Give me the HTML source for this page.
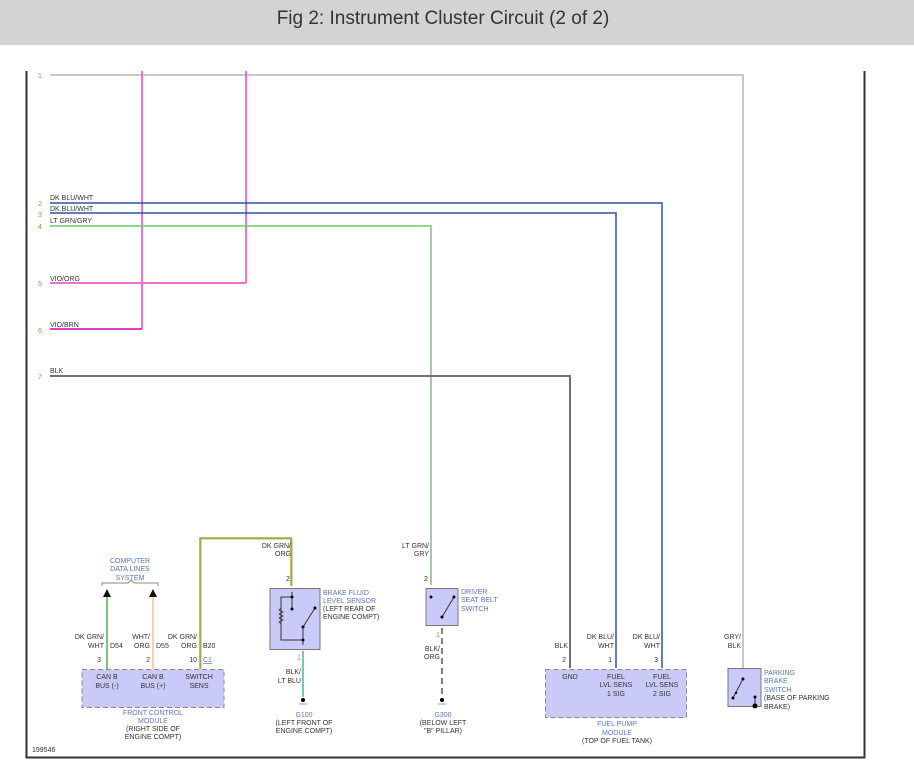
<!DOCTYPE html>
<html><head><meta charset="utf-8"><style>
body{margin:0;background:#fff;width:914px;height:773px;overflow:hidden;}
svg{display:block}
.t{font-family:"Liberation Sans",sans-serif;font-size:7px;fill:#333}
.b{font-family:"Liberation Sans",sans-serif;font-size:7px;fill:#5577cc}
.n{font-family:"Liberation Sans",sans-serif;font-size:7px;fill:#c08040}
</style></head><body>
<svg width="914" height="773" viewBox="0 0 914 773" xmlns="http://www.w3.org/2000/svg">
<rect x="0" y="0" width="914" height="45" fill="#d3d3d3"/>
<text x="443" y="24" font-family="Liberation Sans, sans-serif" font-size="19" fill="#333" text-anchor="middle">Fig 2: Instrument Cluster Circuit (2 of 2)</text>
<!-- frame -->
<path d="M26.5 71 V757.5 H864.5 V71" fill="none" stroke="#333" stroke-width="2"/>
<!-- wires -->
<polyline points="50,75 743,75 743,668" fill="none" stroke="#c8c8c8" stroke-width="2"/>
<line x1="142" y1="71" x2="142" y2="329" stroke="#f070d0" stroke-width="2"/>
<line x1="246" y1="71" x2="246" y2="283" stroke="#f070d0" stroke-width="2"/>
<polyline points="50,203 662,203 662,668" fill="none" stroke="#3050a0" stroke-width="1.5"/>
<polyline points="50,213 616,213 616,668" fill="none" stroke="#3050a0" stroke-width="1.5"/>
<polyline points="50,226 431,226 431,585" fill="none" stroke="#60d060" stroke-width="1.5"/>
<line x1="431" y1="226" x2="431" y2="585" stroke="#a0c0a0" stroke-width="1.5"/>
<polyline points="50,283 246,283" fill="none" stroke="#f070d0" stroke-width="2"/>
<polyline points="50,329 142,329" fill="none" stroke="#e040c0" stroke-width="2"/>
<polyline points="50,376 570,376 570,668" fill="none" stroke="#707070" stroke-width="2"/>
<!-- wire labels -->
<text class="n" x="38" y="78">1</text>
<text class="n" x="38" y="206">2</text><text class="t" x="50" y="200">DK BLU/WHT</text>
<text class="n" x="38" y="217">3</text><text class="t" x="50" y="211">DK BLU/WHT</text>
<text class="n" x="38" y="229">4</text><text class="t" x="50" y="223">LT GRN/GRY</text>
<text class="n" x="38" y="286">5</text><text class="t" x="50" y="281">VIO/ORG</text>
<text class="n" x="38" y="333">6</text><text class="t" x="50" y="327">VIO/BRN</text>
<text class="n" x="38" y="379">7</text><text class="t" x="50" y="373">BLK</text>
<!-- DK GRN/ORG wire -->
<polyline points="200,669 200,538 291,538 291,586" fill="none" stroke="#b8a030" stroke-width="1.5"/>
<polyline points="201,669 201,539 292,539 292,586" fill="none" stroke="#70b050" stroke-width="0.8"/>
<text class="t" x="291" y="548" text-anchor="end">DK GRN/</text>
<text class="t" x="291" y="556" text-anchor="end">ORG</text>
<text class="t" x="286" y="581">2</text>
<!-- computer data lines -->
<text class="b" x="130" y="563" text-anchor="middle">COMPUTER</text>
<text class="b" x="130" y="571" text-anchor="middle">DATA LINES</text>
<text class="b" x="130" y="580" text-anchor="middle">SYSTEM</text>
<path d="M102 586 V583 H128 L131 580 L134 583 H158 V586" fill="none" stroke="#888" stroke-width="1"/>
<line x1="107" y1="595" x2="107" y2="669" stroke="#50b050" stroke-width="1.5"/>
<polygon points="103,597 111,597 107,589" fill="#111"/>
<line x1="153" y1="595" x2="153" y2="669" stroke="#f8c090" stroke-width="1.5"/>
<polygon points="149,597 157,597 153,589" fill="#111"/>
<text class="t" x="104" y="639" text-anchor="end">DK GRN/</text>
<text class="t" x="104" y="648" text-anchor="end">WHT</text><text class="t" x="110" y="648">D54</text>
<text class="t" x="150" y="639" text-anchor="end">WHT/</text>
<text class="t" x="150" y="648" text-anchor="end">ORG</text><text class="t" x="156" y="648">D55</text>
<text class="t" x="197" y="639" text-anchor="end">DK GRN/</text>
<text class="t" x="197" y="648" text-anchor="end">ORG</text><text class="t" x="203" y="648">B20</text>
<text class="t" x="101" y="662" text-anchor="end">3</text>
<text class="t" x="150" y="662" text-anchor="end">2</text>
<text class="t" x="197" y="662" text-anchor="end">10</text>
<text class="b" x="203" y="662" text-decoration="underline">C1</text>
<!-- FCM box -->
<rect x="82" y="669.5" width="142" height="38" fill="#cacaf8" stroke="#888" stroke-dasharray="5,3"/>
<text class="t" x="107" y="679" text-anchor="middle">CAN B</text><text class="t" x="107" y="688" text-anchor="middle">BUS (-)</text>
<text class="t" x="153" y="679" text-anchor="middle">CAN B</text><text class="t" x="153" y="688" text-anchor="middle">BUS (+)</text>
<text class="t" x="199" y="679" text-anchor="middle">SWITCH</text><text class="t" x="199" y="688" text-anchor="middle">SENS</text>
<text class="b" x="153" y="715" text-anchor="middle">FRONT CONTROL</text>
<text class="b" x="153" y="723" text-anchor="middle">MODULE</text>
<text class="t" x="153" y="731" text-anchor="middle">(RIGHT SIDE OF</text>
<text class="t" x="153" y="739" text-anchor="middle">ENGINE COMPT)</text>
<text class="t" x="32" y="752">199546</text>
<!-- brake fluid sensor -->
<rect x="270" y="588.5" width="50" height="61" fill="#cacaf8" stroke="#777"/>
<path d="M292 597 H281 V640 H303" fill="none" stroke="#333" stroke-width="1"/>
<path d="M281 608 l-2 2 l4 2 l-4 2 l4 2 l-4 2 l4 2 l-4 2 l2 2" fill="none" stroke="#333" stroke-width="0.8"/>
<line x1="292" y1="592" x2="292" y2="609" stroke="#333"/><circle cx="292" cy="597" r="1.5"/><circle cx="292" cy="609" r="1.5"/>
<line x1="303" y1="627" x2="315" y2="608" stroke="#333"/><circle cx="315" cy="608" r="1.5"/><circle cx="303" cy="627" r="1.5"/>
<line x1="303" y1="627" x2="303" y2="645" stroke="#333"/><circle cx="303" cy="640" r="1.5"/>
<text class="b" x="323" y="595">BRAKE FLUID</text>
<text class="b" x="323" y="603">LEVEL SENSOR</text>
<text class="t" x="323" y="611">(LEFT REAR OF</text>
<text class="t" x="323" y="619">ENGINE COMPT)</text>
<line x1="303" y1="651" x2="303" y2="697" stroke="#50b0b0" stroke-width="1.5"/>
<text class="n" x="297" y="660">1</text>
<text class="t" x="301" y="674" text-anchor="end">BLK/</text>
<text class="t" x="301" y="683" text-anchor="end">LT BLU</text>
<circle cx="303" cy="700" r="2"/><line x1="299" y1="704" x2="307" y2="704" stroke="#999"/>
<text class="b" x="304" y="717" text-anchor="middle">G100</text>
<text class="t" x="304" y="725" text-anchor="middle">(LEFT FRONT OF</text>
<text class="t" x="304" y="733" text-anchor="middle">ENGINE COMPT)</text>
<!-- seat belt -->
<text class="t" x="429" y="548" text-anchor="end">LT GRN/</text>
<text class="t" x="429" y="556" text-anchor="end">GRY</text>
<text class="t" x="424" y="581">2</text>
<rect x="426" y="588.5" width="32" height="37" fill="#cacaf8" stroke="#777"/>
<circle cx="431" cy="597" r="1.5"/><line x1="442" y1="617" x2="454" y2="597" stroke="#333"/><circle cx="454" cy="597" r="1.5"/><circle cx="442" cy="617" r="1.5"/>
<text class="b" x="461" y="594">DRIVER</text>
<text class="b" x="461" y="602">SEAT BELT</text>
<text class="b" x="461" y="611">SWITCH</text>
<line x1="442" y1="628" x2="442" y2="697" stroke="#555" stroke-width="1.5" stroke-dasharray="6,4"/>
<text class="n" x="436" y="637">1</text>
<text class="t" x="440" y="651" text-anchor="end">BLK/</text>
<text class="t" x="440" y="659" text-anchor="end">ORG</text>
<circle cx="442" cy="700" r="2"/><line x1="438" y1="704" x2="446" y2="704" stroke="#999"/>
<text class="b" x="443" y="717" text-anchor="middle">G300</text>
<text class="t" x="443" y="725" text-anchor="middle">(BELOW LEFT</text>
<text class="t" x="443" y="733" text-anchor="middle">"B" PILLAR)</text>
<!-- fuel pump -->
<text class="t" x="568" y="648" text-anchor="end">BLK</text>
<text class="t" x="614" y="639" text-anchor="end">DK BLU/</text>
<text class="t" x="614" y="648" text-anchor="end">WHT</text>
<text class="t" x="660" y="639" text-anchor="end">DK BLU/</text>
<text class="t" x="660" y="648" text-anchor="end">WHT</text>
<text class="t" x="566" y="662" text-anchor="end">2</text>
<text class="t" x="612" y="662" text-anchor="end">1</text>
<text class="t" x="658" y="662" text-anchor="end">3</text>
<rect x="545.5" y="669.5" width="141" height="48" fill="#cacaf8" stroke="#888" stroke-dasharray="5,3"/>
<text class="t" x="570" y="679" text-anchor="middle">GND</text>
<text class="t" x="616" y="679" text-anchor="middle">FUEL</text><text class="t" x="616" y="687" text-anchor="middle">LVL SENS</text><text class="t" x="616" y="696" text-anchor="middle">1 SIG</text>
<text class="t" x="662" y="679" text-anchor="middle">FUEL</text><text class="t" x="662" y="687" text-anchor="middle">LVL SENS</text><text class="t" x="662" y="696" text-anchor="middle">2 SIG</text>
<text class="b" x="617" y="726" text-anchor="middle">FUEL PUMP</text>
<text class="b" x="617" y="735" text-anchor="middle">MODULE</text>
<text class="t" x="617" y="743" text-anchor="middle">(TOP OF FUEL TANK)</text>
<!-- parking brake -->
<text class="t" x="741" y="639" text-anchor="end">GRY/</text>
<text class="t" x="741" y="648" text-anchor="end">BLK</text>
<rect x="728" y="668.5" width="33" height="38" fill="#cacaf8" stroke="#777"/>
<line x1="733" y1="698" x2="743" y2="679" stroke="#333"/><circle cx="743" cy="679" r="1.5"/><circle cx="733" cy="698" r="1.5"/><circle cx="736" cy="693" r="1.2"/>
<line x1="755" y1="697" x2="755" y2="706" stroke="#333"/><circle cx="755" cy="697" r="1.5"/><circle cx="755" cy="706" r="2.5"/>
<text class="b" x="764" y="675">PARKING</text>
<text class="b" x="764" y="683">BRAKE</text>
<text class="b" x="764" y="692">SWITCH</text>
<text class="t" x="764" y="700">(BASE OF PARKING</text>
<text class="t" x="764" y="709">BRAKE)</text>
</svg>
</body></html>
